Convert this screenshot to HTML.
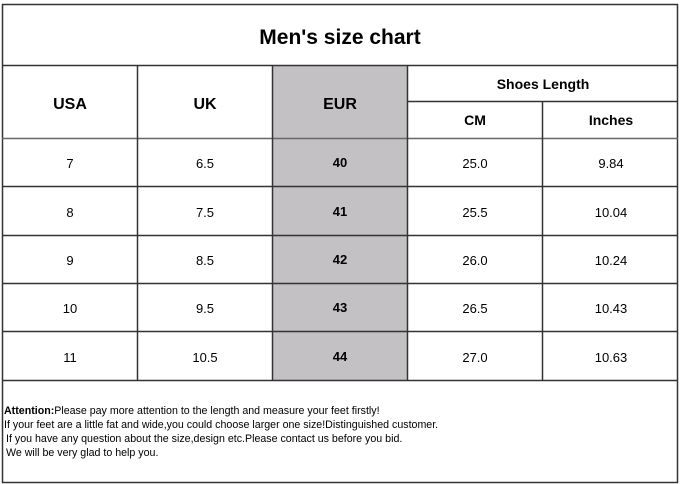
<!DOCTYPE html>
<html><head><style>
html,body{margin:0;padding:0;background:#fff;}
svg{display:block;font-family:"Liberation Sans",Arial,sans-serif;}
</style></head><body>
<svg width="684" height="484" viewBox="0 0 684 484" xmlns="http://www.w3.org/2000/svg">
<rect x="0" y="0" width="684" height="484" fill="#fff"/>
<rect x="272" y="65" width="135" height="315" fill="#c3c1c3"/>
<g stroke="#333" stroke-width="1.5" fill="none">
<rect x="2.5" y="4.5" width="675" height="478"/>
<line x1="2" y1="65.5" x2="678" y2="65.5"/>
<line x1="407" y1="101.5" x2="678" y2="101.5"/>
<line x1="2" y1="138.5" x2="678" y2="138.5" stroke="#666"/>
<line x1="2" y1="186.5" x2="678" y2="186.5"/>
<line x1="2" y1="235.5" x2="678" y2="235.5"/>
<line x1="2" y1="283.5" x2="678" y2="283.5"/>
<line x1="2" y1="331.5" x2="678" y2="331.5"/>
<line x1="2" y1="380.5" x2="678" y2="380.5"/>
<line x1="137.5" y1="65" x2="137.5" y2="380"/>
<line x1="272.5" y1="65" x2="272.5" y2="380"/>
<line x1="407.5" y1="65" x2="407.5" y2="380"/>
<line x1="542.5" y1="101" x2="542.5" y2="380"/>
</g>
<g text-anchor="middle" fill="#000">
<text x="340" y="44" font-size="21" font-weight="bold">Men's size chart</text>
<text x="70" y="109" font-size="16" font-weight="bold">USA</text>
<text x="205" y="109" font-size="16" font-weight="bold">UK</text>
<text x="340" y="109" font-size="16" font-weight="bold">EUR</text>
<text x="543" y="89" font-size="14" font-weight="bold">Shoes Length</text>
<text x="475" y="125" font-size="14" font-weight="bold">CM</text>
<text x="611" y="125" font-size="14" font-weight="bold">Inches</text>
<g font-size="13">
<text x="70" y="168">7</text><text x="205" y="168">6.5</text><text x="340" y="167" font-weight="bold">40</text><text x="475" y="168">25.0</text><text x="611" y="168">9.84</text>
<text x="70" y="217">8</text><text x="205" y="217">7.5</text><text x="340" y="216" font-weight="bold">41</text><text x="475" y="217">25.5</text><text x="611" y="217">10.04</text>
<text x="70" y="265">9</text><text x="205" y="265">8.5</text><text x="340" y="264" font-weight="bold">42</text><text x="475" y="265">26.0</text><text x="611" y="265">10.24</text>
<text x="70" y="313">10</text><text x="205" y="313">9.5</text><text x="340" y="312" font-weight="bold">43</text><text x="475" y="313">26.5</text><text x="611" y="313">10.43</text>
<text x="70" y="362">11</text><text x="205" y="362">10.5</text><text x="340" y="361" font-weight="bold">44</text><text x="475" y="362">27.0</text><text x="611" y="362">10.63</text>
</g>
</g>
<g font-size="10.65" fill="#000">
<text x="4" y="414"><tspan font-weight="bold">Attention:</tspan>Please pay more attention to the length and measure your feet firstly!</text>
<text x="4" y="428">If your feet are a little fat and wide,you could choose larger one size!Distinguished customer.</text>
<text x="6" y="442">If you have any question about the size,design etc.Please contact us before you bid.</text>
<text x="6" y="456">We will be very glad to help you.</text>
</g>
</svg>
</body></html>
